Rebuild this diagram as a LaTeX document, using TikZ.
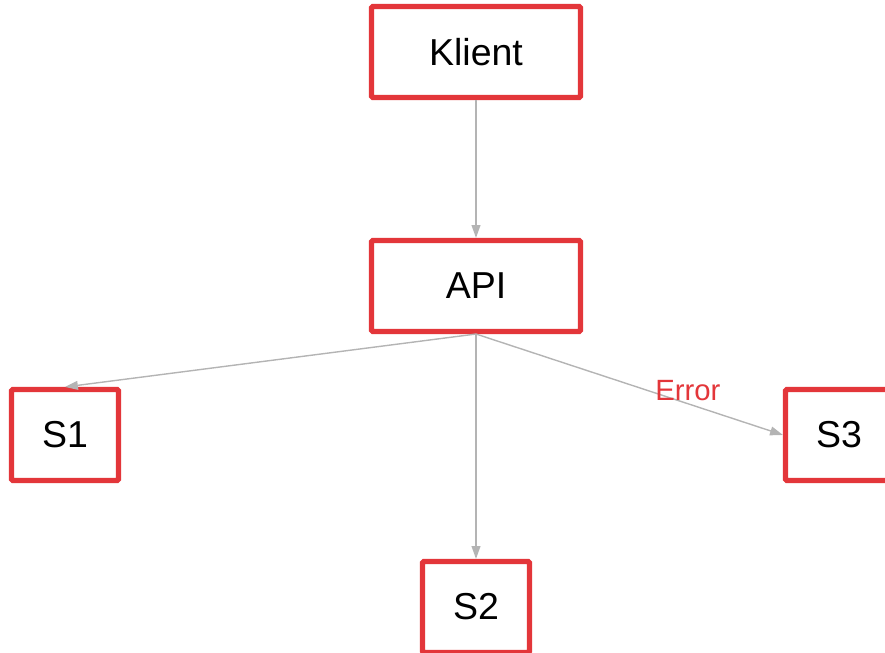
\documentclass[tikz,border=0pt]{standalone}
\usepackage{fontspec}
\setmainfont{Liberation Sans}
\usetikzlibrary{arrows.meta}
\definecolor{boxred}{RGB}{227,54,58}
\definecolor{linegray}{RGB}{180,180,180}

\begin{document}
\begin{tikzpicture}[x=0.03cm,y=-0.03cm,
  main node/.style={rectangle,draw=boxred,line width=4.3pt,rounded corners=1pt,
    font=\fontsize{32}{38}\selectfont,inner sep=0pt,minimum height=2.73cm},
  wide node/.style={main node,minimum width=6.27cm},
  small node/.style={main node,minimum width=3.21cm},
  link/.style={draw=linegray,line width=1.2pt,arrows={-Triangle[length=11pt,width=7.5pt]}}]

  \clip (0,0) rectangle (885,653);

  \node[wide node] (klient) at (476,52) {Klient};
  \node[wide node] (api) at (476,286) {API};
  \node[small node] (s1) at (65,435) {S1};
  \node[small node] (s2) at (476,607) {S2};
  \node[small node] (s3) at (839,435) {S3};

  \path
   (klient) edge[link] (api)
   (api.south) edge[link] (s1.north)
   (api.south) edge[link] (s2.north)
   (api.south) edge[link] node[pos=0.69,yshift=0.4cm,text=boxred,font=\fontsize{25}{30}\selectfont] {Error} (s3.west);
\end{tikzpicture}
\end{document}
